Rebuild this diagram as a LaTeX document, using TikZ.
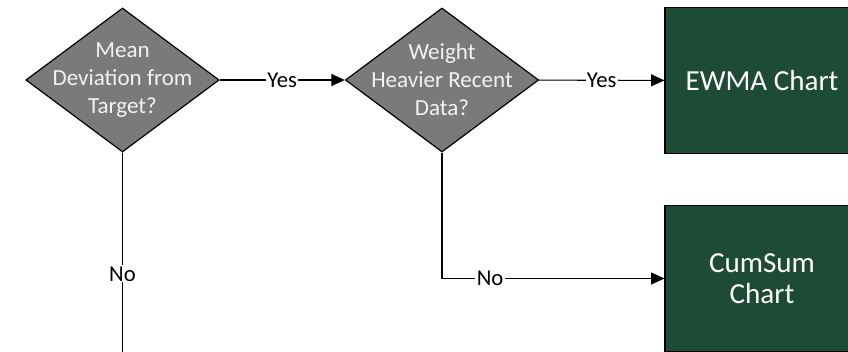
\documentclass[tikz,border=0pt]{standalone}
\usepackage{fontspec}
\setmainfont{Carlito}
\usetikzlibrary{shapes.geometric,arrows.meta}
\definecolor{qgray}{HTML}{7A7A7A}
\definecolor{chartgreen}{HTML}{1E4B35}
\definecolor{qtextcol}{HTML}{F2F2F2}
\tikzset{
    decision/.style={diamond, draw, fill=qgray, line width=0.9pt, minimum width=145pt, minimum height=108pt, inner sep=0pt},
    qtext/.style={align=center, text=qtextcol, font=\fontsize{17.3}{21}\selectfont},
    chartbox/.style={rectangle, draw, fill=chartgreen, line width=0.9pt, minimum width=145.5pt, minimum height=109pt, align=center, text=white, font=\fontsize{21.8}{23.5}\selectfont},
    link/.style={-{Triangle[length=10pt, width=9pt]}, line width=0.8pt},
    lbl/.style={fill=white, inner sep=1pt, font=\fontsize{17}{19}\selectfont}
}
\begin{document}
\begin{tikzpicture}[x=0.75pt, y=-0.75pt]
    \clip (0,0) rectangle (848,351);
    \node (q1) at (122.5,80) [decision] {};
    \node (q1text) at (q1) [qtext] {Mean\\Deviation from\\Target?};
    \node (q2) at (442,80) [decision] {};
    \node (q2text) at (q2) [qtext] {Weight\\Heavier Recent\\Data?};
    \node (ewma) at (762,80.5) [chartbox] {EWMA Chart};
    \node (cusum) at (762,278.5) [chartbox] {CumSum\\Chart};
    \coordinate (down) at (122.5,395);
    \draw[link] (q1) -- node[lbl] {Yes} (q2);
    \draw[link] (q2) -- node[lbl] {Yes} (ewma);
    \draw[link] (q2.south) |- node[lbl, pos=0.608] {No} (cusum);
    \draw[line width=0.8pt] (q1.south) -- node[lbl] {No} (down);
\end{tikzpicture}
\end{document}
